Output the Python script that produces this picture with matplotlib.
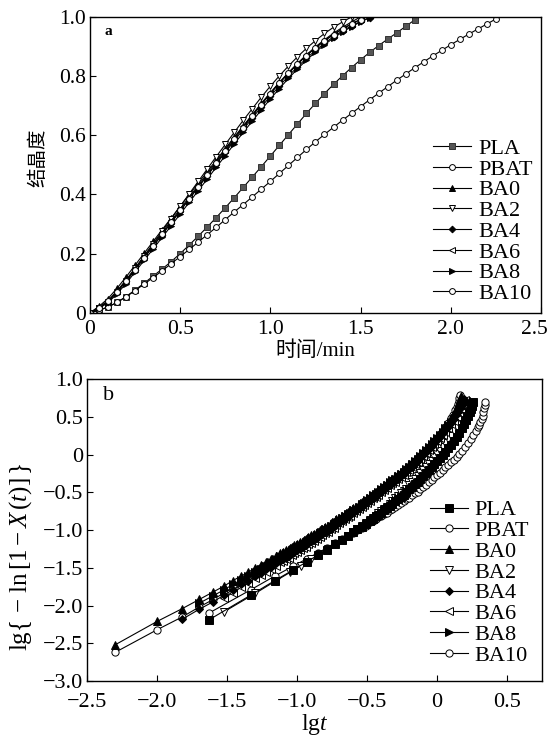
import matplotlib
matplotlib.use('Agg')
import matplotlib.pyplot as plt
from matplotlib.ticker import FuncFormatter, MultipleLocator
from matplotlib.transforms import ScaledTranslation

plt.rcParams['font.family'] = ['Liberation Serif', 'Noto Sans CJK SC']
plt.rcParams['mathtext.fontset'] = 'custom'
plt.rcParams['mathtext.rm'] = 'Liberation Serif'
plt.rcParams['mathtext.it'] = 'Liberation Serif:italic'
plt.rcParams['axes.unicode_minus'] = True

names = ['PLA', 'PBAT', 'BA0', 'BA2', 'BA4', 'BA6', 'BA8', 'BA10']

# ---- panel a: crystallinity vs time (min), sampled every 0.05 min
time_a = [0.00, 0.05, 0.10, 0.15, 0.20, 0.25, 0.30, 0.35, 0.40, 0.45,
          0.50, 0.55, 0.60, 0.65, 0.70, 0.75, 0.80, 0.85, 0.90, 0.95,
          1.00, 1.05, 1.10, 1.15, 1.20, 1.25, 1.30, 1.35, 1.40, 1.45,
          1.50, 1.55, 1.60, 1.65, 1.70, 1.75, 1.80, 1.85, 1.90, 1.95,
          2.00, 2.05, 2.10, 2.15, 2.20, 2.25]

x_pla = [0, 0.008, 0.020, 0.035, 0.055, 0.077, 0.100, 0.124, 0.148, 0.173,
         0.200, 0.229, 0.259, 0.290, 0.322, 0.355, 0.389, 0.424, 0.459, 0.494,
         0.530, 0.566, 0.602, 0.638, 0.674, 0.708, 0.741, 0.772, 0.801, 0.829,
         0.855, 0.880, 0.903, 0.925, 0.946, 0.968, 0.990]
x_pbat = [0, 0.008, 0.020, 0.035, 0.054, 0.075, 0.097, 0.119, 0.142, 0.166,
          0.190, 0.214, 0.239, 0.264, 0.289, 0.315, 0.341, 0.366, 0.392, 0.418,
          0.444, 0.471, 0.498, 0.525, 0.552, 0.578, 0.603, 0.627, 0.651, 0.674,
          0.697, 0.720, 0.742, 0.764, 0.786, 0.807, 0.828, 0.848, 0.868, 0.887,
          0.906, 0.924, 0.942, 0.959, 0.976, 0.993]
x_ba0 = [0, 0.022, 0.048, 0.083, 0.121, 0.161, 0.201, 0.241, 0.281, 0.320,
         0.360, 0.399, 0.438, 0.477, 0.516, 0.555, 0.594, 0.632, 0.670, 0.708,
         0.744, 0.779, 0.812, 0.843, 0.872, 0.899, 0.923, 0.945, 0.965, 0.983,
         1.000]
x_ba2 = [0, 0.016, 0.038, 0.071, 0.109, 0.150, 0.192, 0.234, 0.276, 0.318,
         0.360, 0.402, 0.444, 0.486, 0.528, 0.569, 0.610, 0.651, 0.690, 0.729,
         0.766, 0.801, 0.834, 0.865, 0.894, 0.920, 0.944, 0.965, 0.983, 1.000]
x_ba4 = [0, 0.017, 0.038, 0.070, 0.106, 0.145, 0.185, 0.225, 0.264, 0.304,
         0.344, 0.384, 0.424, 0.463, 0.503, 0.542, 0.581, 0.620, 0.658, 0.696,
         0.732, 0.767, 0.800, 0.831, 0.860, 0.887, 0.911, 0.933, 0.953, 0.970,
         0.985, 0.998]
x_ba6 = [0, 0.019, 0.041, 0.074, 0.111, 0.151, 0.191, 0.231, 0.271, 0.311,
         0.351, 0.391, 0.431, 0.471, 0.511, 0.551, 0.591, 0.630, 0.668, 0.706,
         0.742, 0.777, 0.810, 0.841, 0.870, 0.896, 0.920, 0.941, 0.960, 0.977,
         0.992]
x_ba8 = [0, 0.015, 0.034, 0.064, 0.099, 0.138, 0.177, 0.216, 0.255, 0.294,
         0.334, 0.373, 0.413, 0.452, 0.492, 0.531, 0.571, 0.610, 0.648, 0.686,
         0.723, 0.758, 0.792, 0.824, 0.854, 0.881, 0.906, 0.929, 0.949, 0.967,
         0.983, 0.997]
x_ba10 = [0, 0.017, 0.039, 0.071, 0.107, 0.146, 0.186, 0.226, 0.266, 0.306,
          0.346, 0.386, 0.426, 0.466, 0.506, 0.546, 0.586, 0.626, 0.665, 0.704,
          0.741, 0.776, 0.809, 0.840, 0.869, 0.895, 0.919, 0.940, 0.959, 0.976,
          0.991]

# ---- panel b: Avrami plot, lg t vs lg{-ln[1-X(t)]}
lgt_up = [-2.30, -2.00, -1.82, -1.70, -1.60, -1.52, -1.46, -1.40, -1.35, -1.30,
          -1.26, -1.22, -1.19, -1.15, -1.12,
          -1.10, -1.08, -1.06, -1.04, -1.02, -1.00, -0.98, -0.96, -0.94, -0.92,
          -0.90, -0.88, -0.86, -0.84, -0.82, -0.80, -0.78, -0.76, -0.74, -0.72,
          -0.70, -0.68, -0.66, -0.64, -0.62, -0.60, -0.58, -0.56, -0.54, -0.52,
          -0.50, -0.48, -0.46, -0.44, -0.42, -0.40, -0.38, -0.36, -0.34, -0.32,
          -0.30, -0.28, -0.26, -0.24, -0.22, -0.20, -0.18, -0.16, -0.14, -0.12,
          -0.10]
lgt_low = [-1.63, -1.33, -1.16, -1.03, -0.93, -0.85, -0.79, -0.73, -0.68, -0.64,
           -0.60, -0.57, -0.54, -0.51, -0.48, -0.46, -0.44, -0.42, -0.40,
           -0.38, -0.36, -0.34, -0.32, -0.30, -0.28, -0.26, -0.24, -0.22, -0.20,
           -0.18, -0.16, -0.14, -0.12, -0.10, -0.08, -0.06, -0.04, -0.02, 0.00]

ba0_y = [-2.52, -2.21, -2.04, -1.92, -1.82, -1.74, -1.67, -1.61, -1.56, -1.50,
         -1.46, -1.42, -1.39, -1.34, -1.31,
         -1.29, -1.27, -1.25, -1.22, -1.20, -1.18, -1.16, -1.14, -1.12, -1.09,
         -1.07, -1.05, -1.03, -1.00, -0.98, -0.96, -0.94, -0.91, -0.89, -0.86,
         -0.84, -0.81, -0.79, -0.76, -0.74, -0.71, -0.69, -0.66, -0.63, -0.61,
         -0.58, -0.55, -0.52, -0.50, -0.47, -0.44, -0.41, -0.38, -0.35, -0.32,
         -0.29, -0.26, -0.23, -0.20, -0.16, -0.13, -0.10, -0.06, -0.03, 0.01,
         0.05]
ba0_tail_x = [-0.08, -0.06, -0.04, -0.02, 0.00, 0.02, 0.04, 0.06, 0.08, 0.10,
              0.115, 0.13, 0.14, 0.15, 0.157, 0.163, 0.168]
ba0_tail_y = [0.08, 0.12, 0.16, 0.20, 0.24, 0.28, 0.33, 0.37, 0.42, 0.48,
              0.53, 0.58, 0.62, 0.66, 0.70, 0.74, 0.77]

ba10_y = [-2.62, -2.32, -2.15, -2.02, -1.92, -1.83, -1.76, -1.70, -1.64, -1.59,
          -1.54, -1.50, -1.47, -1.42, -1.39,
          -1.37, -1.35, -1.33, -1.30, -1.28, -1.25, -1.23, -1.21, -1.19, -1.16,
          -1.14, -1.12, -1.09, -1.06, -1.04, -1.02, -1.00, -0.97, -0.95, -0.92,
          -0.90, -0.87, -0.84, -0.81, -0.79, -0.76, -0.74, -0.71, -0.68, -0.66,
          -0.63, -0.60, -0.57, -0.55, -0.51, -0.48, -0.45, -0.42, -0.39, -0.36,
          -0.33, -0.30, -0.27, -0.24, -0.20, -0.16, -0.13, -0.09, -0.06, -0.02,
          0.02]
ba10_tail_x = [-0.08, -0.06, -0.04, -0.02, 0.00, 0.02, 0.04, 0.06, 0.08, 0.10,
               0.115, 0.13, 0.14, 0.148, 0.154, 0.159, 0.162]
ba10_tail_y = [0.05, 0.09, 0.13, 0.17, 0.22, 0.27, 0.31, 0.36, 0.42, 0.48,
               0.53, 0.59, 0.63, 0.67, 0.71, 0.75, 0.79]

ba4_y = [-2.18, -2.05, -1.95, -1.86, -1.79, -1.72, -1.67, -1.61, -1.57, -1.52,
         -1.49, -1.44, -1.41,
         -1.39, -1.37, -1.35, -1.31, -1.29, -1.27, -1.25, -1.23, -1.20, -1.17,
         -1.15, -1.13, -1.11, -1.07, -1.05, -1.03, -1.01, -0.98, -0.95, -0.92,
         -0.90, -0.87, -0.85, -0.82, -0.80, -0.76, -0.74, -0.71, -0.68, -0.66,
         -0.63, -0.60, -0.57, -0.55, -0.52, -0.49, -0.46, -0.43, -0.41, -0.38,
         -0.35, -0.32, -0.29, -0.26, -0.22, -0.19, -0.16, -0.12, -0.09, -0.05,
         -0.01]
ba4_tail_x = [-0.08, -0.06, -0.04, -0.02, 0.00, 0.02, 0.04, 0.06, 0.08, 0.10,
              0.12, 0.135, 0.15, 0.165, 0.175, 0.183, 0.188, 0.192]
ba4_tail_y = [0.03, 0.07, 0.11, 0.15, 0.19, 0.23, 0.28, 0.32, 0.37, 0.42,
              0.47, 0.52, 0.57, 0.62, 0.66, 0.69, 0.71, 0.73]

ba6_y = [-1.90, -1.83, -1.76, -1.70, -1.64, -1.59, -1.55, -1.51, -1.47, -1.43,
         -1.41, -1.39, -1.37, -1.33, -1.31, -1.29, -1.27, -1.24, -1.22, -1.19,
         -1.17, -1.14, -1.12, -1.09, -1.07, -1.04, -1.02, -0.99, -0.97, -0.93,
         -0.91, -0.88, -0.86, -0.83, -0.81, -0.77, -0.75, -0.72, -0.69, -0.67,
         -0.64, -0.61, -0.58, -0.56, -0.53, -0.50, -0.47, -0.44, -0.41, -0.38,
         -0.36, -0.33, -0.30, -0.27, -0.23, -0.20, -0.17, -0.13, -0.10, -0.06,
         -0.02]
ba6_tail_x = [-0.08, -0.06, -0.04, -0.02, 0.00, 0.02, 0.04, 0.06, 0.08, 0.10,
              0.12, 0.14, 0.155, 0.17, 0.182, 0.19, 0.196, 0.20]
ba6_tail_y = [0.02, 0.06, 0.10, 0.14, 0.18, 0.22, 0.26, 0.30, 0.35, 0.40,
              0.45, 0.50, 0.55, 0.60, 0.64, 0.67, 0.70, 0.72]

ba8_y = [-1.97, -1.87, -1.79, -1.72, -1.66, -1.61, -1.55, -1.51, -1.47, -1.43,
         -1.39, -1.35,
         -1.33, -1.31, -1.29, -1.26, -1.24, -1.22, -1.20, -1.18, -1.16, -1.13,
         -1.11, -1.09, -1.07, -1.04, -1.02, -0.99, -0.97, -0.94, -0.92, -0.89,
         -0.87, -0.84, -0.82, -0.79, -0.77, -0.74, -0.72, -0.69, -0.66, -0.64,
         -0.60, -0.57, -0.54, -0.52, -0.49, -0.46, -0.43, -0.40, -0.37, -0.34,
         -0.32, -0.29, -0.26, -0.23, -0.19, -0.16, -0.13, -0.09, -0.06, -0.02,
         0.02]
ba8_tail_x = [-0.08, -0.06, -0.04, -0.02, 0.00, 0.02, 0.04, 0.06, 0.08, 0.10,
              0.12, 0.14, 0.16, 0.175, 0.188, 0.197, 0.205, 0.21]
ba8_tail_y = [0.06, 0.10, 0.14, 0.18, 0.22, 0.26, 0.30, 0.35, 0.39, 0.43,
              0.47, 0.52, 0.57, 0.61, 0.65, 0.68, 0.70, 0.71]

pla_y = [-2.19, -1.86, -1.67, -1.53, -1.42, -1.33, -1.26, -1.19, -1.13, -1.08,
         -1.03, -0.99, -0.96, -0.92, -0.88, -0.85, -0.82, -0.80, -0.77,
         -0.74, -0.71, -0.68, -0.65, -0.62, -0.59, -0.56, -0.53, -0.50, -0.46,
         -0.43, -0.39, -0.36, -0.32, -0.28, -0.24, -0.20, -0.16, -0.12, -0.08]
pla_tail_x = [0.02, 0.04, 0.06, 0.08, 0.10, 0.12, 0.14, 0.16, 0.18, 0.195,
              0.21, 0.222, 0.232, 0.24, 0.247, 0.252, 0.255]
pla_tail_y = [-0.04, 0.00, 0.04, 0.08, 0.13, 0.18, 0.23, 0.29, 0.35, 0.40,
              0.46, 0.51, 0.56, 0.60, 0.64, 0.67, 0.70]

pbat_y = [-2.10, -1.79, -1.61, -1.48, -1.38, -1.30, -1.24, -1.17, -1.12, -1.08,
          -1.04, -1.00, -0.97, -0.94, -0.90, -0.88, -0.86, -0.83, -0.81,
          -0.79, -0.77, -0.74, -0.72, -0.69, -0.67, -0.64, -0.62, -0.59, -0.57,
          -0.54, -0.51, -0.49, -0.46, -0.43, -0.40, -0.37, -0.34, -0.30, -0.27]
pbat_tail_x = [0.02, 0.04, 0.06, 0.08, 0.10, 0.12, 0.14, 0.16, 0.18, 0.20,
               0.22, 0.24, 0.26, 0.275, 0.29, 0.30, 0.31, 0.318, 0.325, 0.331,
               0.336, 0.339, 0.341]
pbat_tail_y = [-0.24, -0.21, -0.17, -0.14, -0.10, -0.07, -0.03, 0.01, 0.05, 0.10,
               0.15, 0.21, 0.26, 0.31, 0.36, 0.39, 0.43, 0.47, 0.51, 0.56,
               0.61, 0.65, 0.69]

ba2_lgt = [-1.52, -1.30, -1.15, -1.05, -0.97, -0.90, -0.84, -0.78, -0.73, -0.68,
           -0.64, -0.60, -0.57, -0.54, -0.51, -0.48, -0.46, -0.44, -0.42, -0.40,
           -0.38, -0.36, -0.34, -0.32, -0.30, -0.28, -0.26, -0.24, -0.22, -0.20,
           -0.18, -0.16, -0.14, -0.12, -0.10, -0.08, -0.06, -0.04, -0.02, 0.00,
           0.02, 0.04, 0.06, 0.08, 0.10, 0.12, 0.14, 0.155, 0.168, 0.178,
           0.188, 0.196, 0.202, 0.207, 0.21]
ba2_y = [-2.08, -1.84, -1.67, -1.56, -1.47, -1.39, -1.32, -1.25, -1.19, -1.13,
         -1.08, -1.03, -0.99, -0.95, -0.91, -0.87, -0.84, -0.81, -0.78, -0.75,
         -0.72, -0.69, -0.65, -0.62, -0.58, -0.55, -0.51, -0.48, -0.45, -0.41,
         -0.37, -0.33, -0.29, -0.25, -0.21, -0.17, -0.12, -0.08, -0.03, 0.01,
         0.05, 0.10, 0.15, 0.20, 0.25, 0.31, 0.37, 0.42, 0.46, 0.50,
         0.55, 0.59, 0.63, 0.67, 0.71]


def join(grid, body, tail_x, tail_y):
    xs = grid[len(grid) - len(body):] + tail_x
    return xs, body + tail_y


markers = ['s', 'o', '^', 'v', 'D', '<', '>', 'o']
face_a = ['#555555', 'white', 'black', 'white', 'black', 'white', 'black', 'white']
face_b = ['black', 'white', 'black', 'white', 'black', 'white', 'black', 'white']
msize = [4.2, 4.2, 4.6, 4.6, 3.4, 4.6, 4.6, 4.2]


def fmt(v, pos):
    if abs(v) < 1e-9:
        return '0'
    return f'{v:.1f}'.replace('-', '\u2212')


def style(ax, size, xpad):
    ax.tick_params(direction='in', length=4, width=0.8, labelsize=size,
                   top=False, right=False)
    ax.tick_params(axis='x', pad=xpad)
    ax.tick_params(axis='y', pad=3)
    for s in ax.spines.values():
        s.set_linewidth(1.0)
    ax.xaxis.set_major_formatter(FuncFormatter(fmt))
    ax.yaxis.set_major_formatter(FuncFormatter(fmt))


fig = plt.figure(figsize=(5.52, 7.36), dpi=100)

# panel a
ax1 = fig.add_axes([0.163, 0.575, 0.817, 0.402])
series_a = [x_pla, x_pbat, x_ba0, x_ba2, x_ba4, x_ba6, x_ba8, x_ba10]
for i in range(len(names)):
    ys = series_a[i]
    ax1.plot(time_a[:len(ys)], ys, color='black', lw=0.8, marker=markers[i],
             ms=msize[i], mfc=face_a[i], mec='black' if i else '#333333',
             mew=0.7, label=names[i])
ax1.set_xlim(0, 2.5)
ax1.set_ylim(0, 1.0)
ax1.xaxis.set_major_locator(MultipleLocator(0.5))
ax1.yaxis.set_major_locator(MultipleLocator(0.2))
style(ax1, 15.5, 5)
ax1.set_xlabel('时间/min', fontsize=15, labelpad=2)
ax1.set_ylabel('结晶度', fontsize=14)
ax1.yaxis.set_label_coords(-0.095, 0.524)
ax1.text(0.04, 0.95, 'a', transform=ax1.transAxes, fontsize=11,
         fontweight='bold', ha='center', va='center')
ax1.legend(loc='upper left', bbox_to_anchor=(0.76, 0.59), frameon=False,
           fontsize=16, handlelength=1.7, handletextpad=0.35, labelspacing=0.01,
           borderpad=0, borderaxespad=0)

# panel b
ax2 = fig.add_axes([0.158, 0.0747, 0.824, 0.4103])
series_b = [
    join(lgt_low, pla_y, pla_tail_x, pla_tail_y),
    join(lgt_low, pbat_y, pbat_tail_x, pbat_tail_y),
    join(lgt_up, ba0_y, ba0_tail_x, ba0_tail_y),
    (ba2_lgt, ba2_y),
    join(lgt_up, ba4_y, ba4_tail_x, ba4_tail_y),
    join(lgt_up, ba6_y, ba6_tail_x, ba6_tail_y),
    join(lgt_up, ba8_y, ba8_tail_x, ba8_tail_y),
    join(lgt_up, ba10_y, ba10_tail_x, ba10_tail_y),
]
for i in range(len(names)):
    xs, ys = series_b[i]
    filled = face_b[i] == 'black'
    ax2.plot(xs, ys, color='black', lw=0.8, marker=markers[i],
             ms=msize[i] + 1.0, mfc=face_b[i], mec='black', mew=0.7,
             label=names[i], zorder=3 if filled else 2)
ax2.set_xlim(-2.5, 0.75)
ax2.set_ylim(-3.0, 1.0)
ax2.xaxis.set_major_locator(MultipleLocator(0.5))
ax2.yaxis.set_major_locator(MultipleLocator(0.5))
style(ax2, 16, 8.5)
ax2.set_xlabel('lg$t$', fontsize=17, labelpad=0)
ax2.set_ylabel(r'$\mathrm{lg}\{\,-\,\mathrm{ln}\,[1-X\,(t)]\,\}$', fontsize=18)
ax2.yaxis.set_label_coords(-0.117, 0.41)
ax2.text(0.046, 0.944, 'b', transform=ax2.transAxes, fontsize=16,
         ha='center', va='center')
ax2.legend(loc='upper left', bbox_to_anchor=(0.754, 0.60), frameon=False,
           fontsize=16, handlelength=1.7, handletextpad=0.3, labelspacing=0.01,
           borderpad=0, borderaxespad=0)

# keep the "2.5" tick label of panel a inside the canvas
fig.canvas.draw()
shift = ScaledTranslation(-5 / 72, 0, fig.dpi_scale_trans)
for tick in ax1.xaxis.get_major_ticks():
    if abs(tick.get_loc() - 2.5) < 1e-6:
        tick.label1.set_transform(tick.label1.get_transform() + shift)

fig.savefig('out.png', dpi=100)
